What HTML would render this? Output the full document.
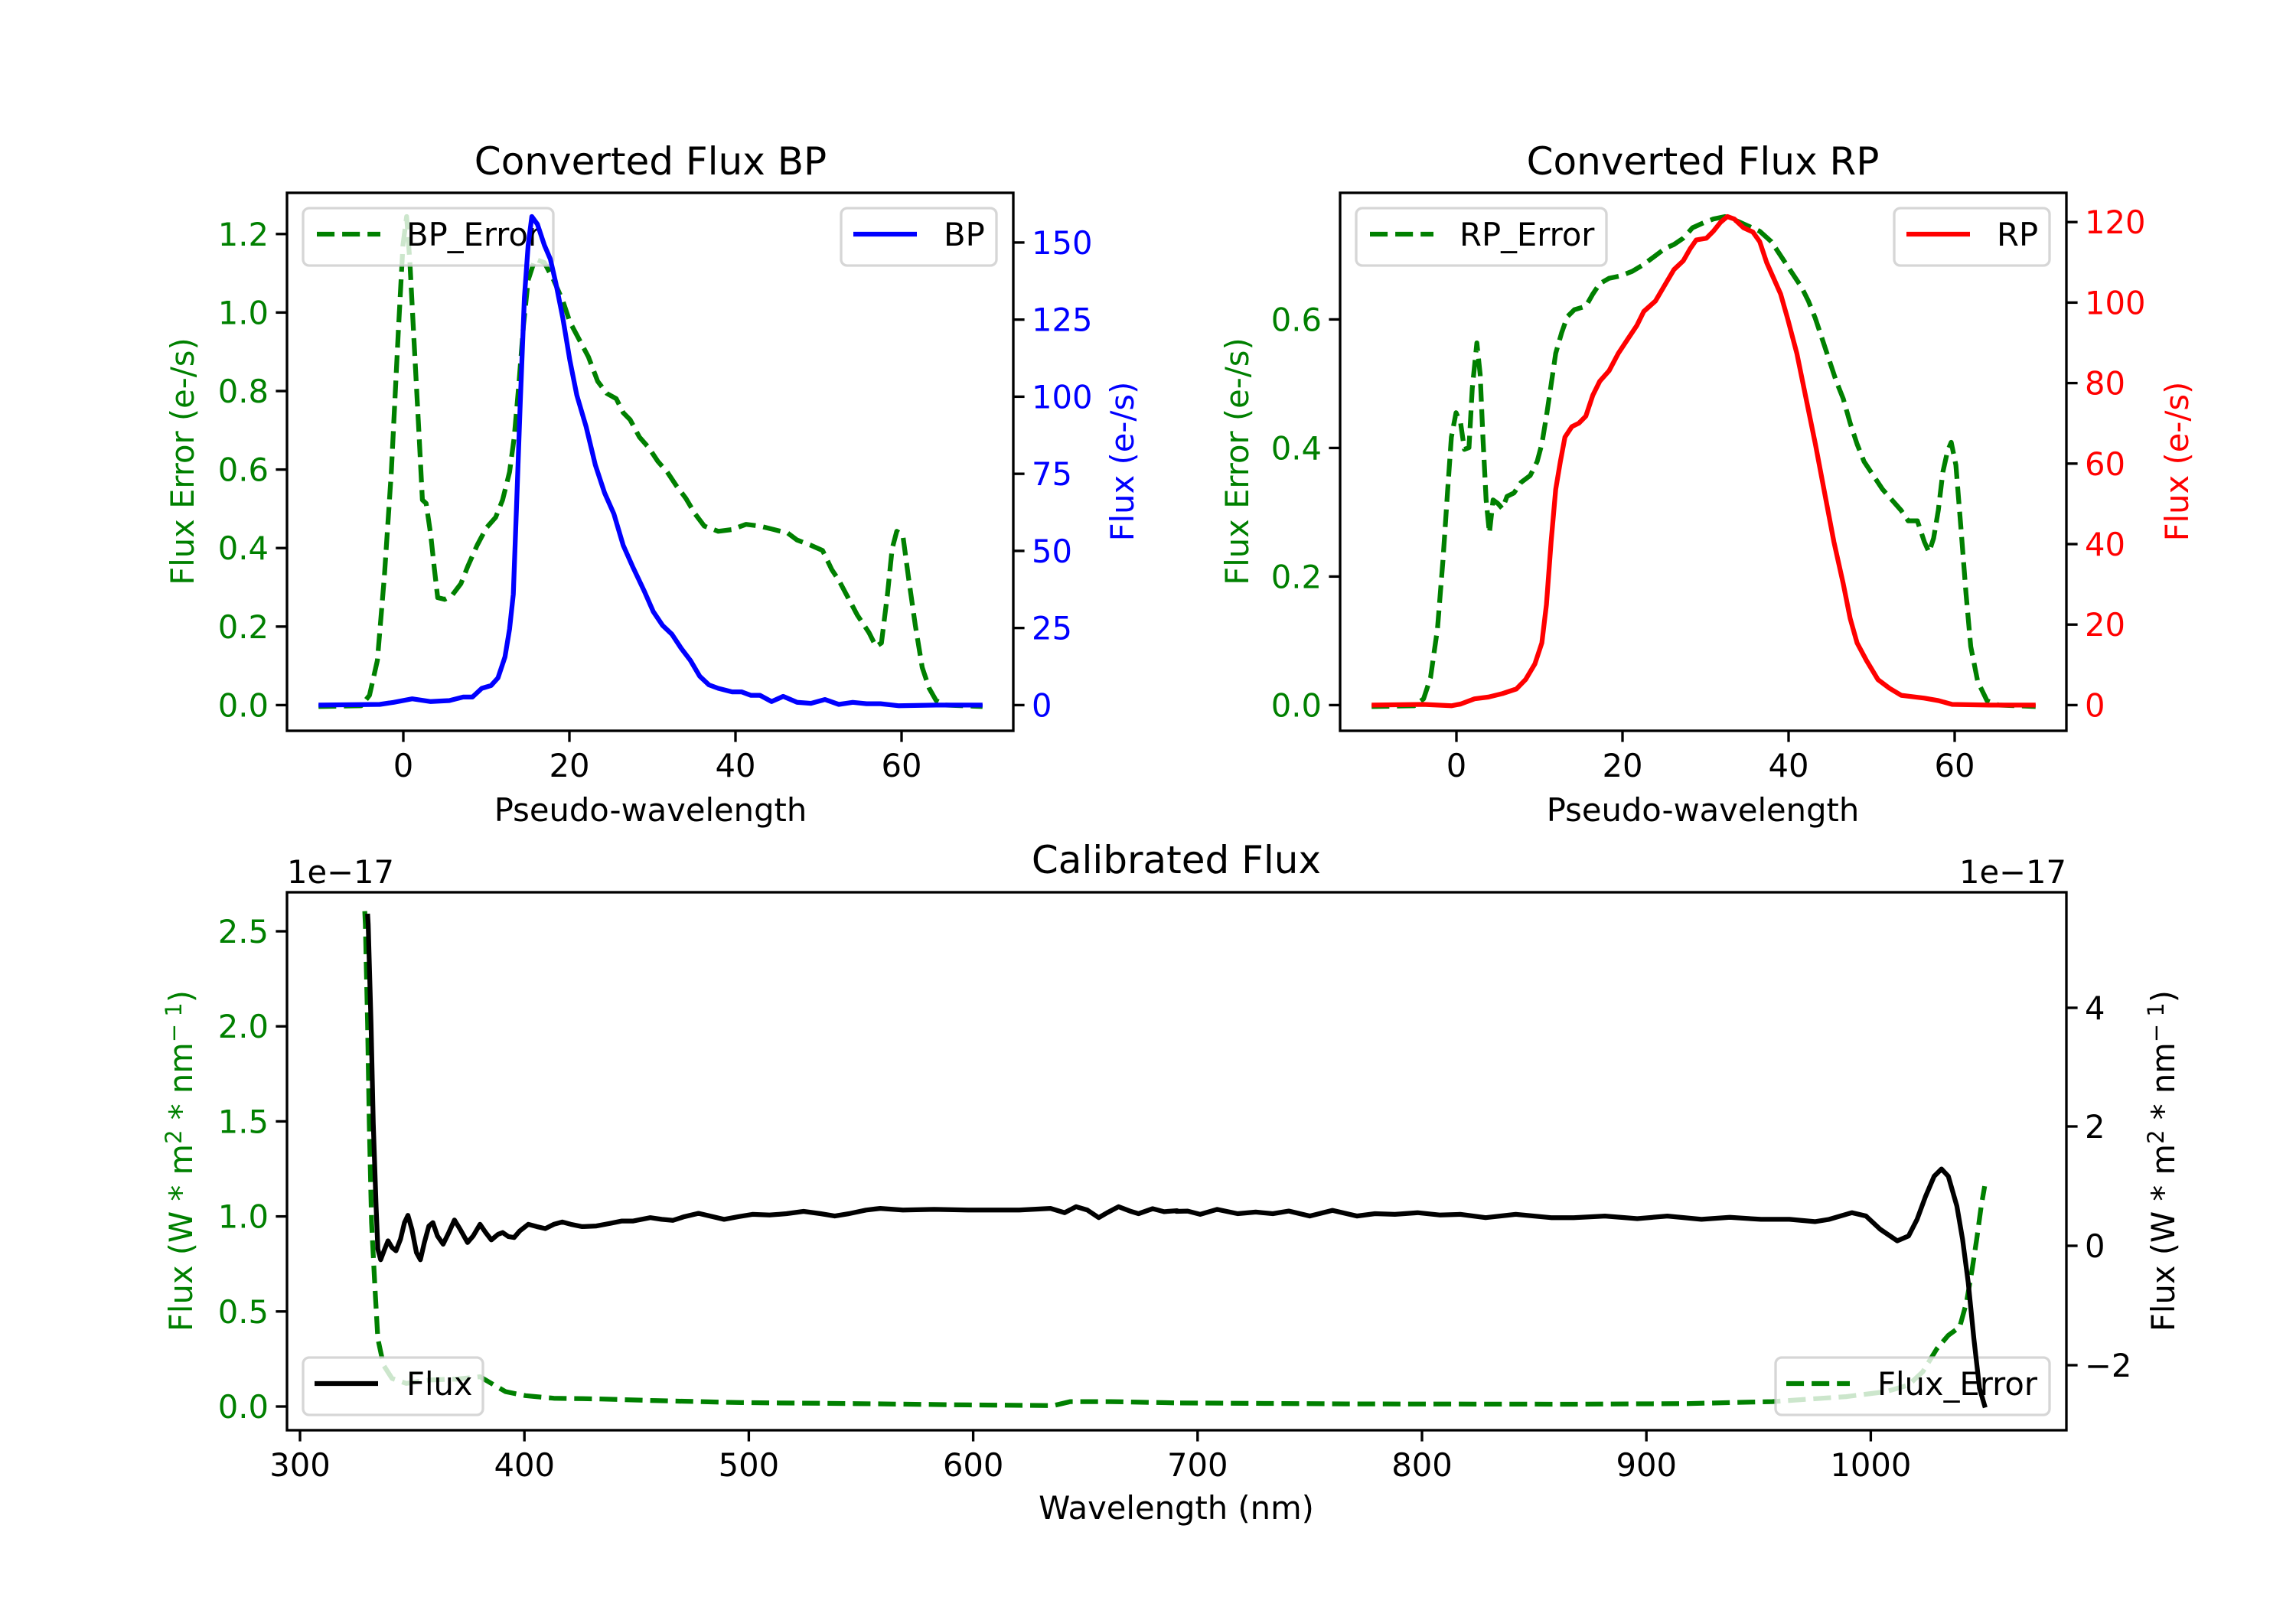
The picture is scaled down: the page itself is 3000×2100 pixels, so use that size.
<!DOCTYPE html>
<html><head><meta charset="utf-8"><style>
html,body{margin:0;padding:0;background:#fff;}
svg{display:block;font-family:"DejaVu Sans","Liberation Sans",sans-serif;}
</style></head><body>
<svg id="s" width="3000" height="2100" viewBox="0 0 3000 2100" xmlns="http://www.w3.org/2000/svg">
<defs>
<clipPath id="cA"><rect x="375" y="252" width="949" height="703"/></clipPath>
<clipPath id="cB"><rect x="1751" y="252" width="949" height="703"/></clipPath>
<clipPath id="cC"><rect x="375" y="1166" width="2325" height="703"/></clipPath>
</defs>
<rect width="3000" height="2100" fill="#fff"/>
<g id="plots" fill="none" stroke-width="6.25" stroke-linejoin="round"></g>

<g fill="none" stroke="#000" stroke-width="3.33">
<rect x="375" y="252" width="949" height="703"/>
<rect x="1751" y="252" width="949" height="703"/>
<rect x="375" y="1166" width="2325" height="703"/>
</g>
<g id="ticks" stroke="#000" stroke-width="3.33"></g>
<g id="labels" font-size="41.67"></g>

<g font-size="50" text-anchor="middle">
<text x="850" y="228">Converted Flux BP</text>
<text x="2225" y="228">Converted Flux RP</text>
<text x="1537" y="1141">Calibrated Flux</text>
</g>
<g font-size="41.67" text-anchor="middle">
<text x="850" y="1073">Pseudo-wavelength</text>
<text x="2225" y="1073">Pseudo-wavelength</text>
<text x="1537" y="1985">Wavelength (nm)</text>
<text transform="translate(253,603) rotate(-90)" fill="#008000">Flux Error (e-/s)</text>
<text transform="translate(1481,603) rotate(-90)" fill="#0000ff">Flux (e-/s)</text>
<text transform="translate(1631,603) rotate(-90)" fill="#008000">Flux Error (e-/s)</text>
<text transform="translate(2859,603) rotate(-90)" fill="#ff0000">Flux (e-/s)</text>
<text transform="translate(251,1517) rotate(-90)" fill="#008000">Flux (W * m<tspan font-size="29" dy="-14">2</tspan><tspan dy="14"> * nm</tspan><tspan font-size="29" dy="-14">− 1</tspan><tspan dy="14">)</tspan></text>
<text transform="translate(2841,1517) rotate(-90)" fill="#000">Flux (W * m<tspan font-size="29" dy="-14">2</tspan><tspan dy="14"> * nm</tspan><tspan font-size="29" dy="-14">− 1</tspan><tspan dy="14">)</tspan></text>
</g>
<g font-size="41.67">
<text x="375" y="1154">1e−17</text>
<text x="2700" y="1154" text-anchor="end">1e−17</text>
</g>
</svg>
<script>
(function(){
var NS="http://www.w3.org/2000/svg";
function el(tag,attrs,parent,txt){var e=document.createElementNS(NS,tag);for(var k in attrs)e.setAttribute(k,attrs[k]);if(txt!==undefined)e.textContent=txt;parent.appendChild(e);return e;}
var plots=document.getElementById('plots'),ticks=document.getElementById('ticks'),labels=document.getElementById('labels');
function path(pts,ox,oy,sx,sy){var d='';for(var i=0;i<pts.length;i+=2){d+=(i?'L':'M')+(ox+pts[i]/sx).toFixed(1)+','+(oy+pts[i+1]/sy).toFixed(1);}return d;}
function line(pts,ox,oy,sx,sy,color,dash,clip){var a={d:path(pts,ox,oy,sx,sy),stroke:color,'clip-path':'url(#'+clip+')'};if(dash)a['stroke-dasharray']='23.1,10';el('path',a,plots);}
function legend(x1,y1,x2,handleX,handleY,textX,label,color,dash){
  el('rect',{x:x1,y:y1,width:x2-x1,height:75,rx:8,fill:'#fff','fill-opacity':0.8,stroke:'#cccccc','stroke-opacity':0.8,'stroke-width':3.33},plots);
  var a={d:'M'+handleX+','+handleY+'L'+(handleX+83)+','+handleY,stroke:color};if(dash)a['stroke-dasharray']='23.1,10';el('path',a,plots);
  el('text',{x:textX,y:handleY+15,'font-size':41.67,fill:'#000',stroke:'none'},plots,label);
}
var BPE=[68,1472,160,1470,178,1440,195,1340,210,1100,225,800,240,400,250,150,258,68,265,200,275,450,285,700,292,880,300,890,310,980,318,1080,325,1160,340,1165,355,1155,375,1120,390,1070,410,1010,430,960,450,930,465,880,480,800,490,700,500,550,510,380,520,250,535,190,555,200,575,250,595,310,610,370,630,420,650,470,670,540,690,575,710,590,725,630,740,650,760,700,780,730,800,770,820,800,840,840,860,875,880,920,900,955,930,970,960,965,990,950,1020,955,1050,965,1080,975,1100,995,1130,1010,1155,1025,1175,1080,1190,1110,1210,1160,1230,1210,1255,1260,1270,1300,1282,1290,1295,1150,1305,1020,1315,970,1328,980,1340,1100,1355,1240,1370,1360,1385,1420,1400,1455,1420,1468,1500,1472];
var BP=[68,1468,200,1466,230,1460,270,1450,310,1458,350,1455,380,1445,400,1445,420,1420,440,1412,455,1390,470,1330,480,1250,488,1150,495,900,503,600,512,300,520,150,528,68,540,90,555,150,568,190,580,260,595,360,610,480,625,580,645,670,665,780,685,860,705,920,725,1010,745,1070,770,1140,790,1200,810,1240,830,1265,850,1305,870,1340,890,1385,910,1410,930,1420,960,1430,980,1430,1000,1440,1020,1440,1045,1458,1070,1443,1100,1460,1130,1463,1160,1452,1190,1466,1220,1460,1250,1464,1280,1464,1320,1470,1400,1468,1500,1468];
var RPE=[68,1472,160,1470,180,1450,195,1390,210,1250,222,1050,232,850,240,700,250,630,260,660,268,735,278,730,285,560,295,430,302,520,308,700,315,880,322,975,330,880,340,890,350,905,360,870,375,860,390,830,410,810,425,770,435,720,445,640,455,550,465,460,478,400,490,355,505,335,530,325,545,290,560,260,580,245,605,238,630,225,655,205,680,180,700,160,720,148,740,130,760,100,785,85,805,75,830,68,855,80,880,95,905,110,930,140,955,190,975,230,995,270,1010,310,1025,360,1040,420,1055,480,1070,540,1085,590,1100,660,1115,720,1130,770,1150,810,1170,850,1190,880,1210,910,1225,940,1245,940,1260,1000,1270,1030,1280,990,1290,910,1300,800,1310,740,1318,715,1328,780,1340,980,1350,1150,1360,1300,1375,1400,1395,1455,1420,1468,1500,1472];
var RP=[68,1468,180,1466,240,1470,260,1465,290,1450,320,1445,350,1435,380,1422,400,1395,420,1350,435,1290,445,1180,455,1000,465,850,475,770,485,700,500,670,515,660,530,640,545,580,560,540,580,510,600,460,620,420,640,380,655,340,680,310,700,265,720,220,740,195,755,160,768,135,790,130,805,110,820,85,835,68,850,75,870,100,890,112,905,140,920,200,935,245,950,290,965,360,985,460,1005,590,1025,720,1045,860,1065,1000,1085,1120,1100,1220,1115,1290,1135,1340,1160,1395,1185,1420,1210,1440,1260,1448,1290,1455,1320,1466,1400,1468,1500,1468];
var sxT=1568/950, syT=1568/715;
line(BPE,375,252,sxT,syT,'#008000',true,'cA');
line(RPE,1751,252,sxT,syT,'#008000',true,'cB');
legend(396,272,723,414,306,531,'BP_Error','#008000',true);
legend(1099,272,1302,1115,306,1233,'BP','#0000ff',false);
legend(1772,272,2099,1790,306,1907,'RP_Error','#008000',true);
legend(2475,272,2678,2491,306,2609,'RP','#ff0000',false);
line(BP,375,252,sxT,syT,'#0000ff',false,'cA');
line(RP,1751,252,sxT,syT,'#ff0000',false,'cB');

var sxB=1568/1163, syB=1568/679;
var FEL=[137,-40,138,0,142,300,145,600,149,900,155,1100,160,1250,170,1330,185,1370,210,1385,250,1375,300,1372,340,1365,360,1385,385,1410,420,1422,470,1430,550,1432,650,1437,800,1443,1000,1446,1200,1450,1350,1452,1380,1440,1450,1440,1568,1444];
var FER=[0,1444,300,1447,700,1448,900,1446,1050,1440,1180,1425,1250,1410,1290,1390,1315,1350,1340,1280,1360,1240,1380,1215,1392,1140,1402,1040,1410,950,1418,850,1424,790];
var FL=[142,-32,143,0,148,300,152,600,157,850,160,980,165,1012,172,980,178,955,185,975,192,985,200,950,207,900,213,878,220,920,228,990,235,1012,242,960,250,910,257,900,265,940,275,965,285,930,295,892,305,920,318,960,328,940,340,905,350,930,360,952,372,935,380,930,390,942,400,945,410,925,425,905,440,912,455,918,470,905,485,898,500,905,520,912,545,910,570,902,590,895,610,895,640,885,660,890,680,893,700,882,725,872,745,880,770,890,795,882,820,875,850,877,880,873,910,866,940,873,965,880,990,873,1020,862,1045,857,1085,862,1140,860,1200,862,1290,862,1345,857,1370,870,1390,852,1410,862,1430,885,1445,870,1465,852,1485,865,1500,873,1525,858,1545,867,1568,864];
var FR=[0,866,20,865,42,875,72,860,108,873,140,868,170,873,198,865,235,880,275,863,318,880,350,873,385,875,425,870,465,877,500,875,545,885,598,875,660,885,700,885,755,880,812,888,865,880,925,890,975,884,1030,890,1080,890,1125,897,1150,890,1190,870,1215,880,1240,920,1270,955,1290,940,1305,890,1320,820,1335,760,1348,738,1360,760,1375,850,1385,950,1395,1080,1405,1250,1415,1400,1425,1458];
function join(a,b,oxA,oxB){var r=[];for(var i=0;i<a.length;i+=2){r.push(a[i]/sxB+oxA,a[i+1]/syB+1208);}for(var j=0;j<b.length;j+=2){r.push(b[j]/sxB+oxB,b[j+1]/syB+1208);}return r;}
var fe=join(FEL,FER,375,1537), fl=join(FL,FR,375,1537);
line(fe,0,0,1,1,'#008000',true,'cC');
legend(396,1774,631,411,1808,531,'Flux','#000',false);
legend(2320,1774,2678,2334,1808,2453,'Flux_Error','#008000',true);
line(fl,0,0,1,1,'#000',false,'cC');

function yt(xAxis,side,y,txt,color){var x2=side<0?xAxis-14.6:xAxis+14.6;el('line',{x1:xAxis,y1:y,x2:x2,y2:y},ticks);
  el('text',{x:side<0?xAxis-24:xAxis+24,y:y+15,'text-anchor':side<0?'end':'start',fill:color},labels,txt);}
function xt(x,yAxis,txt){el('line',{x1:x,y1:yAxis,x2:x,y2:yAxis+14.6},ticks);el('text',{x:x,y:yAxis+60,'text-anchor':'middle',fill:'#000'},labels,txt);}
var i;
for(i=0;i<=6;i++){var v=i*0.2;yt(375,-1,921.4-513*v,v.toFixed(1),'#008000');}
for(i=0;i<=6;i++){yt(1324,1,921.4-4.03*25*i,String(25*i),'#0000ff');}
for(i=0;i<=3;i++){var w=i*0.2;yt(1751,-1,921.4-840*w,w.toFixed(1),'#008000');}
for(i=0;i<=6;i++){yt(2700,1,921.4-5.26*20*i,String(20*i),'#ff0000');}
var xs=[0,20,40,60];
for(i=0;i<4;i++){xt(527+217*i,955,String(xs[i]));xt(1903+217*i,955,String(xs[i]));}
for(i=0;i<=5;i++){var q=i*0.5;yt(375,-1,1838-248.4*q,q.toFixed(1),'#008000');}
var rt=[[-2,1784],[0,1628],[2,1472],[4,1317]];
for(i=0;i<4;i++){yt(2700,1,rt[i][1],rt[i][0]<0?'−2':String(rt[i][0]),'#000');}
for(i=0;i<8;i++){xt(392+293.2*i,1869,String(300+100*i));}
})();
</script>
</body></html>
